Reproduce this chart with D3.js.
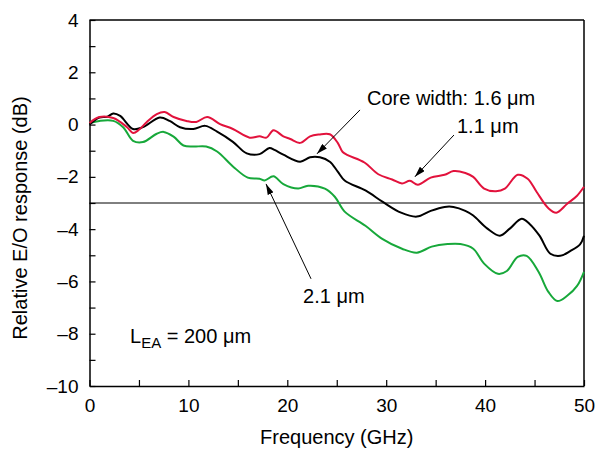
<!DOCTYPE html>
<html>
<head>
<meta charset="utf-8">
<script src="https://cdn.jsdelivr.net/npm/d3@7"></script>
<style>
  body { margin: 0; background: #fff; }
  text { font-family: "Liberation Sans", Arial, sans-serif; fill: #000; }
</style>
</head>
<body>
<script>
// frequency (GHz) / relative response (dB)
var redF = [0, 1.0, 2.4, 3.8, 4.4, 5.0, 5.8, 6.8, 7.6, 8.5, 9.8, 10.8, 11.9, 13.2, 14.5, 16.2, 17.2, 17.9, 18.6, 19.6, 20.3, 21.3, 22.3, 23.2, 24.3, 25.1, 25.6, 26.1, 27.8, 29.2, 30.6, 31.6, 32.4, 33.2, 34.5, 35.9, 36.8, 38.0, 38.8, 39.9, 41.1, 42.0, 43.3, 44.3, 45.2, 46.4, 47.2, 48.3, 49.3, 50];
var redV = [0.06, 0.29, 0.25, -0.1, -0.32, -0.2, 0.1, 0.4, 0.48, 0.29, 0.14, 0.1, 0.29, 0.02, -0.17, -0.5, -0.45, -0.5, -0.22, -0.45, -0.55, -0.7, -0.45, -0.38, -0.37, -0.7, -1.05, -1.17, -1.45, -1.9, -2.1, -2.25, -2.15, -2.3, -2.03, -1.92, -1.78, -1.85, -2.0, -2.45, -2.55, -2.45, -1.92, -2.07, -2.57, -3.2, -3.37, -3.03, -2.72, -2.38];

var blackF = [0, 1.0, 1.8, 2.4, 3.1, 4.4, 5.4, 7.1, 8.1, 9.15, 10.5, 11.7, 12.9, 14.5, 15.9, 17.2, 18.2, 18.7, 19.6, 21.3, 22.3, 23.3, 24.3, 25.1, 25.8, 27.9, 29.7, 31.5, 33.1, 34.5, 35.9, 36.8, 38.0, 38.8, 40.2, 41.5, 42.5, 43.7, 44.5, 45.5, 46.6, 47.6, 48.6, 49.6, 50];
var blackV = [0.0, 0.27, 0.3, 0.42, 0.33, -0.17, -0.1, 0.27, 0.14, -0.1, -0.17, -0.05, -0.27, -0.66, -1.1, -1.13, -0.9, -0.97, -1.15, -1.42, -1.25, -1.25, -1.42, -1.8, -2.14, -2.52, -2.97, -3.37, -3.52, -3.3, -3.15, -3.15, -3.3, -3.48, -3.97, -4.25, -3.98, -3.6, -3.8, -4.25, -4.94, -5.02, -4.84, -4.58, -4.25];

var greenF = [0, 1.0, 2.4, 3.4, 4.4, 5.4, 6.8, 7.5, 8.5, 9.5, 10.5, 11.8, 12.9, 14.5, 16.0, 17.2, 17.7, 18.6, 19.6, 21.1, 22.1, 23.8, 24.8, 25.8, 27.9, 29.6, 31.6, 33.1, 34.6, 36.2, 37.5, 38.8, 39.9, 41.3, 42.2, 43.3, 44.2, 45.4, 46.4, 47.3, 48.3, 49.3, 50];
var greenV = [0.06, 0.14, 0.14, -0.1, -0.62, -0.67, -0.35, -0.28, -0.46, -0.8, -0.84, -0.84, -1.03, -1.6, -2.03, -2.07, -2.14, -1.98, -2.28, -2.45, -2.34, -2.45, -2.76, -3.33, -3.87, -4.37, -4.75, -4.9, -4.67, -4.57, -4.57, -4.75, -5.32, -5.71, -5.6, -5.06, -5.02, -5.63, -6.4, -6.75, -6.55, -6.17, -5.63];

var xTicks = [0, 10, 20, 30, 40, 50];
var yTicks = [4, 2, 0, -2, -4, -6, -8, -10];
var refLevel = -3;

var W = 597, H = 451;
var margin = {top: 20, right: 13, bottom: 65, left: 89.5};

var svg = d3.select("body").append("svg")
  .attr("width", W)
  .attr("height", H);

var x = d3.scaleLinear().domain([0, 50]).range([margin.left, W - margin.right]);
var y = d3.scaleLinear().domain([-10, 4]).range([H - margin.bottom, margin.top]);

var fmt = function(d) { return d < 0 ? "\u2013" + Math.abs(d) : String(d); };

// minor ticks
svg.append("g")
  .attr("transform", "translate(" + x(0) + ",0)")
  .call(d3.axisLeft(y).tickValues(d3.range(-9, 4, 2)).tickSize(-6).tickFormat(""))
  .call(function(g) { g.select(".domain").remove(); });
svg.append("g")
  .attr("transform", "translate(0," + y(-10) + ")")
  .call(d3.axisBottom(x).tickValues([5, 15, 25, 35, 45]).tickSize(-6).tickFormat(""))
  .call(function(g) { g.select(".domain").remove(); });

var yAxis = svg.append("g")
  .attr("transform", "translate(" + x(0) + ",0)")
  .call(d3.axisLeft(y).tickValues(yTicks).tickSize(-6).tickSizeOuter(0).tickPadding(11).tickFormat(fmt));
yAxis.selectAll("text").attr("font-size", 19).attr("font-family", "Liberation Sans, Arial, sans-serif");

var xAxis = svg.append("g")
  .attr("transform", "translate(0," + y(-10) + ")")
  .call(d3.axisBottom(x).tickValues(xTicks).tickSize(-6).tickSizeOuter(0).tickPadding(13).tickFormat(d3.format("d")));
xAxis.selectAll("text").attr("font-size", 19).attr("font-family", "Liberation Sans, Arial, sans-serif");

svg.selectAll(".domain").attr("stroke-width", 1.5);
svg.selectAll(".tick line").attr("stroke-width", 1.2);

// top and right frame
svg.append("line")
  .attr("x1", x(0)).attr("x2", x(50))
  .attr("y1", y(4)).attr("y2", y(4))
  .attr("stroke", "#000").attr("stroke-width", 1.5);
svg.append("line")
  .attr("x1", x(50)).attr("x2", x(50))
  .attr("y1", y(4)).attr("y2", y(-10))
  .attr("stroke", "#000").attr("stroke-width", 1.5);

// -3 dB line
svg.append("line")
  .attr("x1", x(0)).attr("x2", x(50))
  .attr("y1", y(refLevel)).attr("y2", y(refLevel))
  .attr("stroke", "#000").attr("stroke-width", 1);

var line = d3.line()
  .x(function(d) { return x(d[0]); })
  .y(function(d) { return y(d[1]); })
  .curve(d3.curveCatmullRom);

var series = [
  {f: greenF, v: greenV, color: "#17a83a"},
  {f: blackF, v: blackV, color: "#000000"},
  {f: redF, v: redV, color: "#e2123c"}
];

series.forEach(function(s) {
  svg.append("path")
    .datum(d3.zip(s.f, s.v))
    .attr("fill", "none")
    .attr("stroke", s.color)
    .attr("stroke-width", 2)
    .attr("stroke-linejoin", "round")
    .attr("d", line);
});

// arrows
svg.append("defs").append("marker")
  .attr("id", "arr")
  .attr("viewBox", "0 0 10 6")
  .attr("refX", 10).attr("refY", 3)
  .attr("markerWidth", 11).attr("markerHeight", 6.5)
  .attr("markerUnits", "userSpaceOnUse")
  .attr("orient", "auto")
  .append("path")
  .attr("d", "M0,0 L10,3 L0,6 Z")
  .attr("fill", "#000");

var arrows = [
  [27.35, 0.56, 23.0, -1.12],
  [36.85, -0.4, 32.9, -2.0],
  [22.4, -5.9, 17.85, -2.27]
];
arrows.forEach(function(a) {
  svg.append("line")
    .attr("x1", x(a[0])).attr("y1", y(a[1]))
    .attr("x2", x(a[2])).attr("y2", y(a[3]))
    .attr("stroke", "#000").attr("stroke-width", 1)
    .attr("marker-end", "url(#arr)");
});

// labels
svg.append("text").attr("x", x(28.06)).attr("y", y(0.75))
  .attr("font-size", 20).text("Core width: 1.6 \u03bcm");
svg.append("text").attr("x", x(37.16)).attr("y", y(-0.32))
  .attr("font-size", 20).text("1.1 \u03bcm");
svg.append("text").attr("x", x(21.6)).attr("y", y(-6.82))
  .attr("font-size", 20).text("2.1 \u03bcm");

var lea = svg.append("text").attr("x", x(4.1)).attr("y", y(-8.35)).attr("font-size", 20);
lea.append("tspan").text("L");
lea.append("tspan").attr("font-size", 15).attr("dy", 5).text("EA");
lea.append("tspan").attr("dy", -5).text(" = 200 \u03bcm");

// axis titles
svg.append("text")
  .attr("x", (x(0) + x(50)) / 2)
  .attr("y", 444)
  .attr("text-anchor", "middle")
  .attr("font-size", 20)
  .text("Frequency (GHz)");

svg.append("text")
  .attr("transform", "translate(27," + 218 + ") rotate(-90)")
  .attr("text-anchor", "middle")
  .attr("font-size", 20)
  .text("Relative E/O response (dB)");
</script>
</body>
</html>
